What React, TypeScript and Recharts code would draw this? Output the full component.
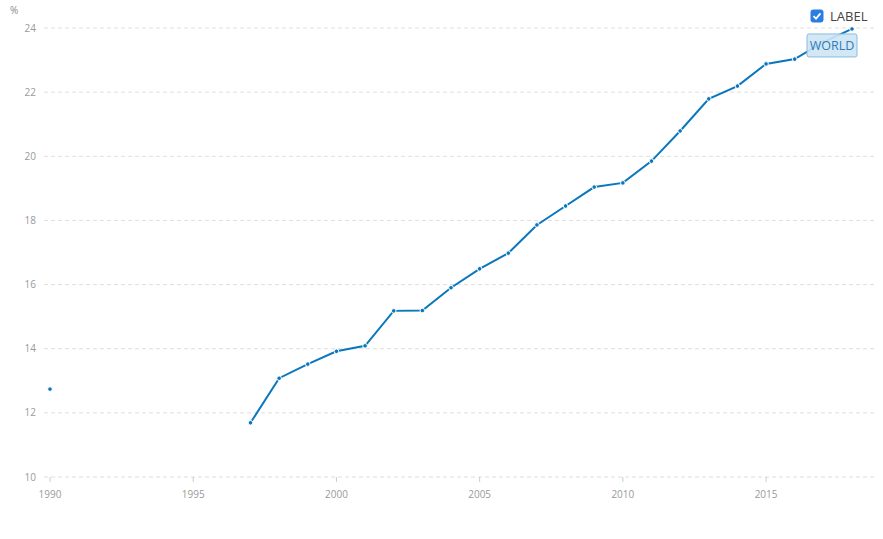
import { CartesianGrid, Line, LineChart, XAxis, YAxis } from "recharts"

const years = [
  1990, 1991, 1992, 1993, 1994, 1995, 1996, 1997, 1998, 1999, 2000, 2001, 2002, 2003,
  2004, 2005, 2006, 2007, 2008, 2009, 2010, 2011, 2012, 2013, 2014, 2015, 2016, 2017, 2018
]

const worldValues: (number | null)[] = [
  12.74, null, null, null, null, null, null, 11.69, 13.08, 13.52, 13.92, 14.09, 15.18, 15.19,
  15.9, 16.49, 16.98, 17.86, 18.45, 19.04, 19.17, 19.85, 20.79, 21.79, 22.19, 22.88, 23.03,
  23.56, 23.97
]

const xTicks = [1990, 1995, 2000, 2005, 2010, 2015]
const yTicks = [10, 12, 14, 16, 18, 20, 22, 24]

const seriesName = "WORLD"
const legendLabel = "LABEL"
const unitLabel = "%"

const BLUE = "#0a77bd"
const FONT = "'Open Sans', sans-serif"

const chartData = years.map((year, index) => ({
  year,
  value: worldValues[index]
}))

type LabelProps = {
  x?: number
  y?: number
  index?: number
}

// tag box hanging under the last point
function SeriesTag({ x, y, index }: LabelProps) {
  if (x === undefined || y === undefined || index !== chartData.length - 1) {
    return null
  }

  return (
    <g>
      <rect
        x={x - 45}
        y={y + 5}
        width={50}
        height={23}
        rx={2}
        fill="#cfe4f4"
        fillOpacity={0.9}
        stroke="#86bde3"
      />
      <text
        x={x - 20}
        y={y + 21}
        textAnchor="middle"
        fill="#2b7cb9"
        fontSize={12.5}
        fontFamily={FONT}
      >
        {seriesName}
      </text>
    </g>
  )
}

export default function App() {
  return (
    <div style={{ position: "absolute", left: 0, top: 0, width: 883, height: 539, background: "#fff" }}>
      <div
        style={{
          position: "absolute",
          left: 10,
          top: 3,
          fontFamily: FONT,
          fontSize: 10,
          color: "#8a8a8a"
        }}
      >
        {unitLabel}
      </div>
      <div
        style={{
          position: "absolute",
          left: 810,
          top: 7,
          display: "flex",
          alignItems: "center",
          fontFamily: FONT,
          fontSize: 13,
          color: "#444",
          zIndex: 2
        }}
      >
        <svg width={14} height={14} style={{ marginRight: 6 }}>
          <rect x={0.5} y={0.5} width={13} height={13} rx={3} fill="#2a7de1" />
          <path d="M3.5 7.2 L6 9.6 L10.5 4.4" stroke="#fff" strokeWidth={1.8} fill="none" />
        </svg>
        <span>{legendLabel}</span>
      </div>
      <LineChart
        width={883}
        height={539}
        data={chartData}
        margin={{ top: 28, right: 7, bottom: 32, left: 0 }}
      >
        <CartesianGrid vertical={false} stroke="#dedede" strokeDasharray="4 3" />
        <XAxis
          dataKey="year"
          type="number"
          domain={[1990, 2018]}
          ticks={xTicks}
          padding={{ left: 6, right: 24 }}
          axisLine={false}
          tickLine={{ stroke: "#cccccc" }}
          tickSize={5}
          tickMargin={9}
          height={30}
          tick={{ fill: "#9a9a9a", fontSize: 10, fontFamily: FONT }}
        />
        <YAxis
          domain={[10, 24]}
          ticks={yTicks}
          axisLine={false}
          tickLine={false}
          width={44}
          tick={{ fill: "#9a9a9a", fontSize: 10, fontFamily: FONT }}
        />
        <Line
          type="linear"
          dataKey="value"
          stroke={BLUE}
          strokeWidth={2}
          connectNulls={false}
          dot={{ r: 2.3, fill: BLUE, stroke: "#ffffff", strokeWidth: 1 }}
          activeDot={false}
          isAnimationActive={false}
          label={<SeriesTag />}
        />
      </LineChart>
    </div>
  )
}
